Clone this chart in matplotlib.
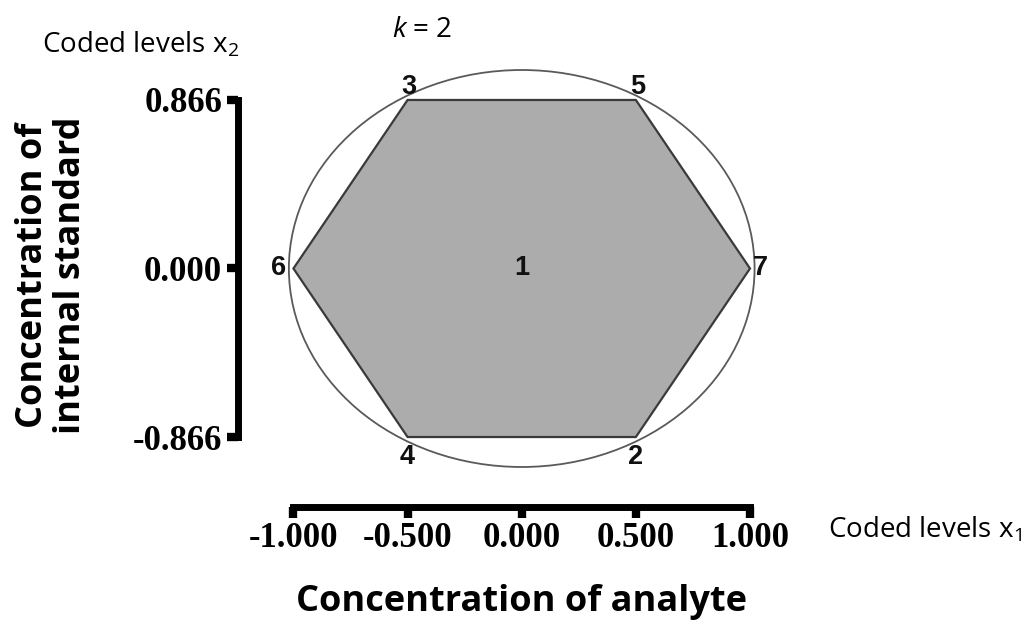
import numpy as np
import matplotlib
matplotlib.use("Agg")
import matplotlib.pyplot as plt
from matplotlib.patches import Polygon, Ellipse

# Doehlert design, two factors (k = 2): run number and coded levels
run_ids = ["1", "2", "3", "4", "5", "6", "7"]
x1_coded = [0.0, 0.5, -0.5, -0.5, 0.5, -1.0, 1.0]
x2_coded = [0.0, -0.866, 0.866, -0.866, 0.866, 0.0, 0.0]

x_ticks = [-1.0, -0.5, 0.0, 0.5, 1.0]
x_tick_labels = ["-1.000", "-0.500", "0.000", "0.500", "1.000"]
y_ticks = [-0.866, 0.0, 0.866]
y_tick_labels = ["-0.866", "0.000", "0.866"]

circle_radius = 1.02

plt.rcParams["mathtext.fontset"] = "custom"
plt.rcParams["mathtext.rm"] = "Open Sans"
plt.rcParams["mathtext.it"] = "Open Sans:italic"

W, H = 1032, 631
fig = plt.figure(figsize=(W / 100, H / 100), dpi=100)

# axes frame in pixels: left spine, right edge, bottom spine, top edge
ax_l, ax_r, ax_b, ax_t = 237.5, 800.0, 507.0, 50.0
ax = fig.add_axes([ax_l / W, 1 - ax_b / H, (ax_r - ax_l) / W, (ax_b - ax_t) / H])
ax.set_xlim(-1.245, 1.219)
ax.set_ylim(-1.2256, 1.1228)
ax.patch.set_alpha(0)

# circle through the outer design points
ax.add_patch(Ellipse((0, 0), 2 * circle_radius, 2 * circle_radius,
                     fill=False, edgecolor="#5a5a5a", linewidth=1.3, zorder=2))

# hexagon formed by the six outer runs
xs = np.array(x1_coded)
ys = np.array(x2_coded)
outer = [i for i in range(len(xs)) if not (xs[i] == 0 and ys[i] == 0)]
outer.sort(key=lambda i: np.arctan2(ys[i], xs[i]))
hexagon = Polygon(np.column_stack([xs[outer], ys[outer]]), closed=True,
                  facecolor="#acacac", edgecolor="#3a3a3a", linewidth=1.6, zorder=3)
ax.add_patch(hexagon)

# run labels
pt_font = dict(family="Liberation Sans", fontweight="bold", fontsize=19.5, color="#111111", zorder=5)
for rid, x, y in zip(run_ids, xs, ys):
    if x == 0 and y == 0:
        ax.text(x, y, rid, ha="center", va="center", **pt_font)
    elif y > 0:
        ax.annotate(rid, (x, y), xytext=(1, 0), textcoords="offset points",
                    ha="center", va="bottom", **pt_font)
    elif y < 0:
        ax.annotate(rid, (x, y), xytext=(0, -5), textcoords="offset points",
                    ha="center", va="top", **pt_font)
    elif x < 0:
        ax.annotate(rid, (x, y), xytext=(-5, 0), textcoords="offset points",
                    ha="right", va="center", **pt_font)
    else:
        ax.annotate(rid, (x, y), xytext=(2, 0), textcoords="offset points",
                    ha="left", va="center", **pt_font)

# spines and ticks
for side in ("top", "right"):
    ax.spines[side].set_visible(False)
for side in ("left", "bottom"):
    ax.spines[side].set_linewidth(5)
    ax.spines[side].set_capstyle("projecting")
ax.spines["left"].set_bounds(-0.866, 0.866)
ax.spines["bottom"].set_bounds(-1.0, 1.0)

ax.set_xticks(x_ticks)
ax.set_xticklabels(x_tick_labels)
ax.set_yticks(y_ticks)
ax.set_yticklabels(y_tick_labels)
ax.tick_params(direction="out", length=8, width=6)
ax.tick_params(axis="x", pad=3)
ax.tick_params(axis="y", pad=3)
for lab in ax.get_xticklabels() + ax.get_yticklabels():
    lab.set_fontfamily("Liberation Serif")
    lab.set_fontweight("bold")
    lab.set_fontsize(25)

# axis titles
fig.text(42 / W, 1 - 45 / H, "Coded levels x$_2$", family="Open Sans",
         fontsize=20, ha="left", va="center")
fig.text(828 / W, 1 - 530 / H, "Coded levels x$_1$", family="Open Sans",
         fontsize=20, ha="left", va="center")
fig.text(422 / W, 1 - 30 / H, "$k$ = 2", family="Open Sans",
         fontsize=20, ha="center", va="center")
fig.text(52 / W, 1 - 275 / H, "Concentration of\ninternal standard",
         family="Open Sans", fontweight="bold", fontsize=26, rotation=90,
         ha="center", va="center", linespacing=1.05)
fig.text(522 / W, 1 - 602 / H, "Concentration of analyte", family="Open Sans",
         fontweight="bold", fontsize=26, ha="center", va="center")

fig.savefig("out.png", dpi=100)
